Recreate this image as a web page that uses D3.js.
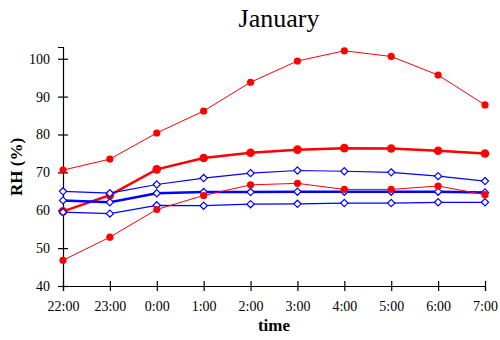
<!DOCTYPE html>
<html><head><meta charset="utf-8">
<script src="https://cdn.jsdelivr.net/npm/d3@7"></script>
<style>body{margin:0;background:#fff} svg text{font-family:"Liberation Serif","Times New Roman",Times,serif !important;}</style>
</head><body>
<svg id="c" width="500" height="340"></svg>
<script>
const times = ["22:00","23:00","0:00","1:00","2:00","3:00","4:00","5:00","6:00","7:00"];
const yTicks = [40,50,60,70,80,90,100];
const redUpper = [70.6,73.5,80.4,86.2,93.8,99.4,102.1,100.6,95.7,87.8];
const redMid   = [59.7,64.0,70.8,73.8,75.2,76.0,76.4,76.3,75.7,75.0];
const redLower = [46.8,52.9,60.2,63.9,66.7,67.1,65.5,65.5,66.4,64.1];
const blueUpper = [65.0,64.5,66.8,68.5,69.8,70.5,70.3,70.0,69.0,67.7];
const blueMid   = [62.6,62.1,64.5,64.8,64.8,64.9,64.9,64.9,64.9,64.7];
const blueLower = [59.5,59.1,61.3,61.2,61.6,61.7,61.9,61.9,62.1,62.1];

const svg = d3.select("#c");
const x = d3.scalePoint().domain(times).range([63,485]);
const y = d3.scaleLinear().domain([40,103.1]).range([286,47]);

// axes
const xa = svg.append("g").attr("transform","translate(0,286)")
  .call(d3.axisBottom(x).tickSizeOuter(0).tickSize(5).tickPadding(10));
xa.selectAll(".tick line").attr("y1",-5).attr("y2",5);
const ya = svg.append("g").attr("transform","translate(63,0)")
  .call(d3.axisLeft(y).tickValues(yTicks).tickSizeOuter(0).tickSize(5).tickPadding(8));
ya.selectAll(".tick line").attr("x1",-5).attr("x2",5);
[xa,ya].forEach(a=>{
  a.attr("font-family",null);
  a.selectAll("text").style("font-size","14px").attr("fill","#000");
  a.selectAll("line,path").attr("stroke","#000").attr("stroke-width",1.2);
});

const line = d3.line().x((d,i)=>x(times[i])).y(d=>y(d));
function drawCircles(vals, w, r){
  svg.append("path").datum(vals).attr("d",line).attr("fill","none").attr("stroke","#ff0000").attr("stroke-width",w);
  svg.append("g").selectAll("circle").data(vals).join("circle")
    .attr("cx",(d,i)=>x(times[i])).attr("cy",d=>y(d)).attr("r",r).attr("fill","#ff0000");
}
function drawDiamonds(vals, w){
  svg.append("path").datum(vals).attr("d",line).attr("fill","none").attr("stroke","#0000ff").attr("stroke-width",w);
  svg.append("g").selectAll("path").data(vals).join("path")
    .attr("d",(d,i)=>{const cx=x(times[i]),cy=y(d),s=3.6;return `M${cx},${cy-s}L${cx+s},${cy}L${cx},${cy+s}L${cx-s},${cy}Z`;})
    .attr("fill","#fff").attr("stroke","#0000ff").attr("stroke-width",1.2);
}
drawCircles(redMid, 2.5, 4.3);
drawDiamonds(blueUpper, 1.2);
drawDiamonds(blueMid, 2.5);
drawDiamonds(blueLower, 1.2);
drawCircles(redLower, 1, 3.6);
drawCircles(redUpper, 1, 3.6);

svg.append("text").attr("x",279).attr("y",27).attr("text-anchor","middle")
  .style("font-size","26px").text("January");
svg.append("text").attr("transform","translate(22,167) rotate(-90)").attr("text-anchor","middle")
  .style("font-size","17px").style("font-weight","bold").text("RH (%)");
svg.append("text").attr("x",274).attr("y",331).attr("text-anchor","middle")
  .style("font-size","17px").style("font-weight","bold").text("time");
</script>
</body></html>
